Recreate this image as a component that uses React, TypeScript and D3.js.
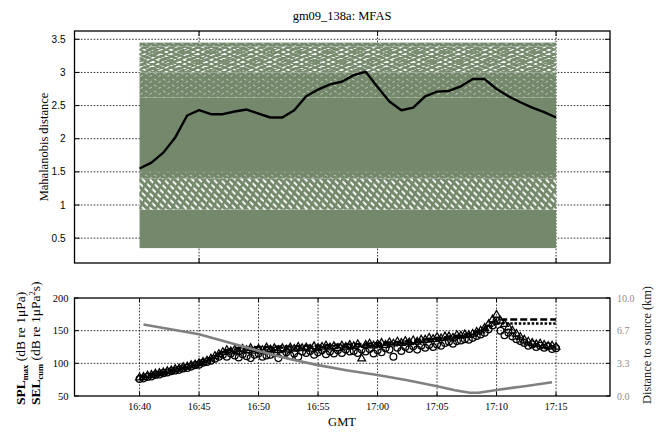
import React from "react";
import * as d3 from "d3";

// ---------------- data ----------------
const chartTitle = "gm09_138a: MFAS";

// Mahalanobis distance (mean, black line), one value per minute from 16:40
const mdStart = "16:40:00";
const mdStepSec = 60;
const mdMean = [
  1.55, 1.64, 1.79, 2.02, 2.35, 2.43, 2.37, 2.37, 2.41, 2.44, 2.38, 2.32,
  2.32, 2.43, 2.64, 2.74, 2.82, 2.86, 2.96, 3.01, 2.78, 2.56, 2.43, 2.47,
  2.64, 2.71, 2.72, 2.79, 2.9, 2.9, 2.75, 2.64, 2.55, 2.47, 2.4, 2.32,
];
// envelope bands of the many individual (green) traces
const mdBandEdges = [0.35, 0.93, 1.4, 1.5, 2.62, 3.0, 3.39, 3.45];
const mdBandTexture = ["solid", "stripes", "dense", "solid", "dense", "cross", "dense"];
const mdTicks = [0.5, 1, 1.5, 2, 2.5, 3, 3.5];
const mdTickLabels = ["0.5", "1", "1.5", "2", "2.5", "3", "3.5"];
const mdTimeTicks = ["16:45", "17:00", "17:15"];

// SPL / SEL markers, every 20 s from 16:40
const splStart = "16:40:00";
const splStepSec = 20;
const splTriangles = [
  78, 79, 81, 82, 84, 85, 86, 88, 89, 91, 92, 94, 95, 97, 98, 100, 102, 104,
  107, 111, 114, 117, 120, 118, 121, 118, 122, 120, 123, 119, 122, 120, 124,
  121, 123, 120, 123, 121, 124, 122, 125, 123, 124, 122, 126, 123, 125, 127,
  124, 126, 123, 127, 125, 128, 126, 129, 107, 128, 130, 127, 129, 131, 128,
  132, 130, 133, 131, 134, 132, 135, 133, 136, 136, 139, 137, 140, 138, 141,
  141, 139, 143, 142, 144, 143, 145, 148, 150, 154, 160, 167, 174, 165, 160,
  155, 150, 145, 140, 136, 133, 131, 129, 130, 128, 126, 127, 125,
];
const splCircles = [
  76, 77, 79, 80, 82, 83, 85, 86, 88, 89, 90, 92, 93, 95, 97, 98, 101, 102,
  104, 107, 110, 113, 110, 115, 112, 109, 114, 111, 108, 113, 115, 110, 112,
  113, 116, 108, 114, 117, 112, 115, 110, 118, 116, 119, 113, 117, 120, 114,
  118, 115, 120, 116, 121, 118, 119, 116, 121, 118, 122, 115, 120, 117, 123,
  121, 110, 124, 119, 125, 122, 126, 121, 127, 124, 128, 125, 129, 127, 131,
  133, 130, 134, 135, 137, 136, 139, 142, 144, 147, 152, 158, 165, 150, 143,
  147, 141, 137, 134, 131, 127, 129, 125, 127, 124, 126, 122, 123,
];
// cumulative SEL lines, one value per minute from 16:40
const selStart = "16:40:00";
const selStepSec = 60;
const selDashed = [
  79, 83, 87, 91, 95, 100, 108, 119, 123, 124, 125, 125, 126, 126, 127, 127,
  128, 129, 129, 130, 131, 132, 133, 135, 137, 139, 141, 143, 147, 154, 167,
  167, 167, 167, 167, 167,
];
const selDotted = [
  78, 82, 86, 90, 94, 99, 106, 117, 121, 122, 123, 123, 124, 124, 125, 125,
  126, 127, 127, 128, 129, 130, 131, 133, 135, 137, 139, 141, 145, 152, 161,
  161, 161, 161, 161, 161,
];
// distance to source (km)
const distTimes = [
  "16:40:20", "16:45:00", "16:47:30", "16:50:00", "16:52:30", "16:55:00",
  "16:57:30", "17:00:00", "17:02:30", "17:05:00", "17:06:30", "17:07:45",
  "17:08:30", "17:10:00", "17:12:30", "17:14:40",
];
const distKm = [
  7.3, 6.3, 5.45, 4.6, 3.8, 3.15, 2.6, 2.15, 1.6, 1.0, 0.58, 0.33, 0.33, 0.62,
  1.02, 1.4,
];
const timeTicks = ["16:40", "16:45", "16:50", "16:55", "17:00", "17:05", "17:10", "17:15"];
const splTicks = [50, 100, 150, 200];
const distTicks = [0, 10 / 3, 20 / 3, 10];
const distTickLabels = ["0.0", "3.3", "6.7", "10.0"];

// ---------------- helpers ----------------
function tmin(s: string): number {
  const p = s.split(":").map(Number);
  return p[0] * 60 + p[1] + (p[2] || 0) / 60;
}

const SERIF = "'Liberation Serif', 'Times New Roman', serif";
const SANS = "'Liberation Sans', Arial, sans-serif";
const G = "#74896b";

export default function App() {
  const L = 74.5, R = 610;
  const T1 = 31, B1 = 263, T2 = 298, B2 = 396;
  const x = d3.scaleLinear().domain([tmin("16:34:32"), tmin("17:19:32")]).range([L, R]);
  const yMd = d3.scaleLinear().domain([0.125, 3.625]).range([B1, T1]);
  const ySpl = d3.scaleLinear().domain([50, 200]).range([B2, T2]);
  const yDist = d3.scaleLinear().domain([0, 10]).range([B2, T2]);

  const mdT0 = tmin(mdStart);
  const mdPts = mdMean.map((v, i) => [mdT0 + (i * mdStepSec) / 60, v]);
  const lineMd = d3.line<number[]>().x((d) => x(d[0])).y((d) => yMd(d[1]));
  const mdX0 = x(mdPts[0][0]);
  const mdX1 = x(mdPts[mdPts.length - 1][0]);

  const sT0 = tmin(splStart);
  const triPts = splTriangles.map((v, i) => [sT0 + (i * splStepSec) / 60, v]);
  const cirPts = splCircles.map((v, i) => [sT0 + (i * splStepSec) / 60, v]);
  const selT0 = tmin(selStart);
  const dashPts = selDashed.map((v, i) => [selT0 + (i * selStepSec) / 60, v]);
  const dotPts = selDotted.map((v, i) => [selT0 + (i * selStepSec) / 60, v]);
  const lineSpl = d3.line<number[]>().x((d) => x(d[0])).y((d) => ySpl(d[1]));
  const distPts = distTimes.map((t, i) => [tmin(t), distKm[i]]);
  const lineDist = d3.line<number[]>().x((d) => x(d[0])).y((d) => yDist(d[1]));

  const triPath = d3.symbol().type(d3.symbolTriangle).size(26)()!;
  const cirR = 3.4;

  // texture layers per band style (base colour + overlay patterns)
  const texLayers: Record<string, string[]> = {
    solid: [G],
    stripes: ["#fff", "url(#pStripe)", "url(#pStripe2)"],
    dense: [G, "url(#pDense)"],
    cross: ["#fff", "url(#pX1)", "url(#pX2)"],
  };

  const grid = { stroke: "#000", strokeWidth: 0.8, strokeDasharray: "1.6,1.6" };

  return (
    <svg
      width={667}
      height={434}
      style={{ position: "absolute", left: 0, top: 0, background: "#fff" }}
    >
      <defs>
        <pattern id="pX1" width="9" height="4" patternUnits="userSpaceOnUse">
          <path d="M-1,-0.5 L10,4.5 M-1,4.5 L10,-0.5" stroke={G} strokeWidth="1.4" />
        </pattern>
        <pattern id="pX2" width="13" height="5" patternUnits="userSpaceOnUse" patternTransform="translate(3,2)">
          <path d="M-1,-0.4 L14,5.4 M-1,5.4 L14,-0.4" stroke={G} strokeWidth="1.3" />
        </pattern>
        <pattern id="pStripe" width="5" height="5" patternUnits="userSpaceOnUse" patternTransform="rotate(-45)">
          <rect width="3.2" height="5" fill={G} />
        </pattern>
        <pattern id="pStripe2" width="7" height="7" patternUnits="userSpaceOnUse" patternTransform="rotate(30)">
          <rect width="2.4" height="7" fill={G} />
        </pattern>
        <pattern id="pDense" width="9" height="6" patternUnits="userSpaceOnUse">
          <path d="M1,1 L3.5,2.2 M5.5,4.4 L7.8,3.3" stroke="#fff" strokeWidth="0.8" opacity="0.7" />
        </pattern>
      </defs>

      {/* title */}
      <text x={342} y={20} textAnchor="middle" fontFamily={SERIF} fontSize={12.5}>
        {chartTitle}
      </text>

      {/* ---------- top panel ---------- */}
      <g>
        {mdTicks.map((v) => (
          <line key={"gy" + v} x1={L} x2={R} y1={yMd(v)} y2={yMd(v)} {...grid} />
        ))}
        {mdTimeTicks.map((t) => (
          <line key={"gx" + t} x1={x(tmin(t))} x2={x(tmin(t))} y1={T1} y2={B1} {...grid} />
        ))}
        {mdBandEdges.slice(0, -1).map((lo, i) => {
          const hi = mdBandEdges[i + 1];
          return texLayers[mdBandTexture[i]].map((f, j) => (
            <rect
              key={"band" + i + "_" + j}
              x={mdX0}
              width={mdX1 - mdX0}
              y={yMd(hi)}
              height={yMd(lo) - yMd(hi)}
              fill={f}
            />
          ));
        })}
        <path d={lineMd(mdPts)!} fill="none" stroke="#000" strokeWidth={2.4} strokeLinejoin="round" />
        {mdTimeTicks.map((t) => (
          <g key={"tk" + t}>
            <line x1={x(tmin(t))} x2={x(tmin(t))} y1={T1} y2={T1 + 5} stroke="#000" strokeWidth={1} />
            <line x1={x(tmin(t))} x2={x(tmin(t))} y1={B1} y2={B1 - 5} stroke="#000" strokeWidth={1} />
          </g>
        ))}
        {mdTicks.map((v, i) => (
          <g key={"ty" + v}>
            <line x1={L} x2={L + 5} y1={yMd(v)} y2={yMd(v)} stroke="#000" strokeWidth={1} />
            <line x1={R} x2={R - 5} y1={yMd(v)} y2={yMd(v)} stroke="#000" strokeWidth={1} />
            <text x={L - 9} y={yMd(v) + 3.5} textAnchor="end" fontFamily={SANS} fontSize={10}>
              {mdTickLabels[i]}
            </text>
          </g>
        ))}
        <rect x={L} y={T1} width={R - L} height={B1 - T1} fill="none" stroke="#000" strokeWidth={1.3} />
        <text
          transform={`translate(48,${(T1 + B1) / 2}) rotate(-90)`}
          textAnchor="middle"
          fontFamily={SERIF}
          fontSize={12.5}
        >
          Mahalanobis distance
        </text>
      </g>

      {/* ---------- bottom panel ---------- */}
      <g>
        {[100, 150].map((v) => (
          <line key={"bgy" + v} x1={L} x2={R} y1={ySpl(v)} y2={ySpl(v)} {...grid} />
        ))}
        {timeTicks.map((t) => (
          <line key={"bgx" + t} x1={x(tmin(t))} x2={x(tmin(t))} y1={T2} y2={B2} {...grid} />
        ))}
        {cirPts.map((d, i) => (
          <circle key={"c" + i} cx={x(d[0])} cy={ySpl(d[1])} r={cirR} fill="none" stroke="#000" strokeWidth={1.25} />
        ))}
        {triPts.map((d, i) => (
          <path
            key={"t" + i}
            d={triPath}
            transform={`translate(${x(d[0])},${ySpl(d[1])})`}
            fill="none"
            stroke="#000"
            strokeWidth={1.25}
          />
        ))}
        <path d={lineSpl(dashPts)!} fill="none" stroke="#000" strokeWidth={2.4} strokeDasharray="7,3" />
        <path d={lineSpl(dotPts)!} fill="none" stroke="#000" strokeWidth={2.4} strokeDasharray="2.5,1.8" />
        <path d={lineDist(distPts)!} fill="none" stroke="#808080" strokeWidth={2.6} />

        {timeTicks.map((t) => (
          <g key={"btk" + t}>
            <line x1={x(tmin(t))} x2={x(tmin(t))} y1={T2} y2={T2 + 4} stroke="#000" strokeWidth={1} />
            <line x1={x(tmin(t))} x2={x(tmin(t))} y1={B2} y2={B2 - 4} stroke="#000" strokeWidth={1} />
            <text x={x(tmin(t))} y={410} textAnchor="middle" fontFamily={SERIF} fontSize={10}>
              {t}
            </text>
          </g>
        ))}
        {splTicks.map((v) => (
          <g key={"bty" + v}>
            <line x1={L} x2={L + 4} y1={ySpl(v)} y2={ySpl(v)} stroke="#000" strokeWidth={1} />
            <text x={L - 6} y={ySpl(v) + 3.5} textAnchor="end" fontFamily={SERIF} fontSize={10.5}>
              {v}
            </text>
          </g>
        ))}
        {distTicks.map((v, i) => (
          <g key={"bdy" + i}>
            <line x1={R} x2={R - 4} y1={yDist(v)} y2={yDist(v)} stroke="#000" strokeWidth={1} />
            <text x={R + 7} y={yDist(v) + 3.5} textAnchor="start" fontFamily={SERIF} fontSize={10} fill="#8c8c8c">
              {distTickLabels[i]}
            </text>
          </g>
        ))}
        <rect x={L} y={T2} width={R - L} height={B2 - T2} fill="none" stroke="#000" strokeWidth={1.3} />

        <text x={342} y={426} textAnchor="middle" fontFamily={SERIF} fontSize={12.5}>
          GMT
        </text>
        <text transform="translate(25,405) rotate(-90)" fontFamily={SERIF} fontSize={13.5}>
          <tspan fontWeight="bold">SPL</tspan>
          <tspan fontWeight="bold" fontSize={8.5} dy={3}>max</tspan>
          <tspan dy={-3}>{"\u00a0(dB re 1\u03bcPa)"}</tspan>
        </text>
        <text transform="translate(40,405) rotate(-90)" fontFamily={SERIF} fontSize={13.5}>
          <tspan fontWeight="bold">SEL</tspan>
          <tspan fontWeight="bold" fontSize={8.5} dy={3}>cum</tspan>
          <tspan dy={-3}>{"\u00a0(dB re 1\u03bcPa"}</tspan>
          <tspan fontSize={8.5} dy={-5}>2</tspan>
          <tspan dy={5}>s)</tspan>
        </text>
        <text
          transform={`translate(651,${(T2 + B2) / 2 - 2}) rotate(-90)`}
          textAnchor="middle"
          fontFamily={SERIF}
          fontSize={12.3}
          fill="#222"
        >
          Distance to source (km)
        </text>
      </g>
    </svg>
  );
}
